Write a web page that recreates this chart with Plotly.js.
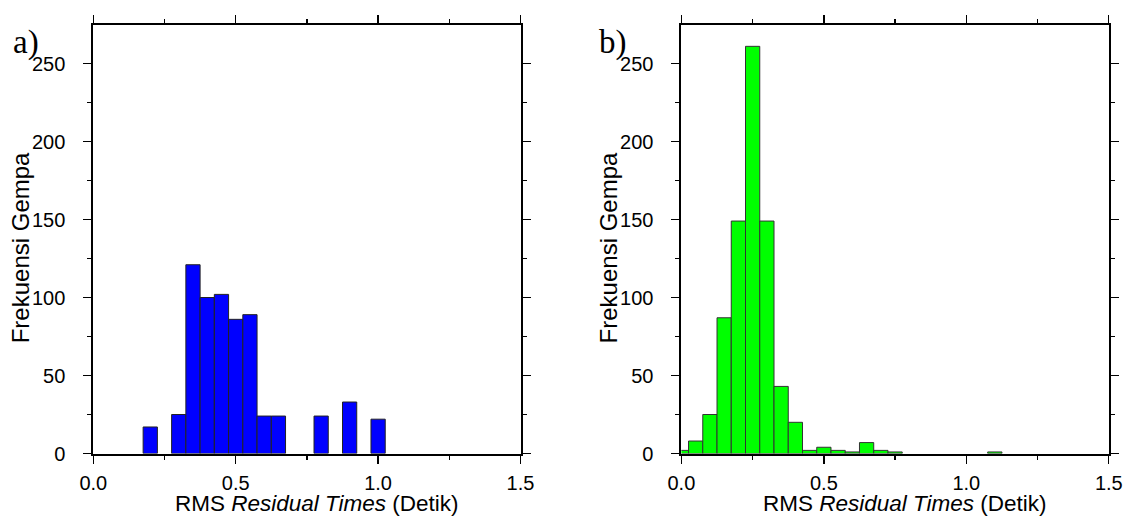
<!DOCTYPE html>
<html>
<head>
<meta charset="utf-8">
<script src="https://cdn.plot.ly/plotly-3.0.1.min.js"></script>
<style>html,body{margin:0;padding:0;background:#fff;}#chart{width:1127px;height:517px;}</style>
</head>
<body>
<div id="chart"></div>
<script>
// Panel a) histogram (bin centres, bin width 0.05 s)
const binsA = [0.2, 0.3, 0.35, 0.4, 0.45, 0.5, 0.55, 0.6, 0.65, 0.8, 0.9, 1.0];
const countsA = [17, 25, 121, 100, 102, 86, 89, 24, 24, 24, 33, 22];
// Panel b) histogram
const binsB = [0, 0.05, 0.1, 0.15, 0.2, 0.25, 0.3, 0.35, 0.4, 0.45, 0.5, 0.55, 0.6, 0.65, 0.7, 0.75, 1.1];
const countsB = [2, 8, 25, 87, 149, 261, 149, 43, 20, 2, 4, 2, 1, 7, 2, 1, 1];
const binWidth = 0.05;
const xTickVals = [0, 0.5, 1.0, 1.5];
const xTickText = ['0.0', '0.5', '1.0', '1.5'];
const yTickVals = [0, 50, 100, 150, 200, 250];
const panelLabels = ['a)', 'b)'];
const yTitle = 'Frekuensi Gempa';
const xTitle = 'RMS <i>Residual Times</i> (Detik)';

const W = 1127, H = 517;
const px = v => v / W, py = v => 1 - v / H;
const domA = [px(93.3), px(520.5)];
const domB = [px(681.4), px(1108.8)];
const domY = [py(453.5), py(24.5)];

const tickFont = {family: 'Liberation Sans, Arial, sans-serif', size: 20, color: '#000'};

function xax(dom, anchor) {
  return {
    domain: dom, anchor: anchor, range: [0, 1.5], fixedrange: true,
    showline: true, linecolor: '#000', linewidth: 2, mirror: 'allticks',
    showgrid: false, zeroline: false,
    ticks: 'outside', ticklen: 8, tickwidth: 1.3, tickcolor: '#000',
    tickvals: xTickVals, ticktext: xTickText, tickfont: tickFont,
    ticklabelstandoff: 2,
    minor: {tickvals: [0.25, 0.75, 1.25], ticks: 'outside', ticklen: 4, tickwidth: 1.3, tickcolor: '#000', showgrid: false},
    automargin: false
  };
}
function yax(anchor) {
  return {
    domain: domY, anchor: anchor, range: [0, 275], fixedrange: true,
    showline: true, linecolor: '#000', linewidth: 2, mirror: 'allticks',
    showgrid: false, zeroline: false,
    ticks: 'outside', ticklen: 8, tickwidth: 1.3, tickcolor: '#000',
    tickvals: yTickVals, tickfont: tickFont,
    ticklabelstandoff: 14,
    minor: {tickvals: [25, 75, 125, 175, 225], ticks: 'outside', ticklen: 4, tickwidth: 1.3, tickcolor: '#000', showgrid: false},
    automargin: false
  };
}

const traces = [
  {type: 'bar', x: binsA, y: countsA, width: binWidth, xaxis: 'x', yaxis: 'y',
   marker: {color: '#0000ff', line: {color: '#222', width: 1}}, hoverinfo: 'x+y'},
  {type: 'bar', x: binsB, y: countsB, width: binWidth, xaxis: 'x2', yaxis: 'y2',
   marker: {color: '#00ff00', line: {color: '#333', width: 1}}, hoverinfo: 'x+y'}
];

const titleFont = {family: 'Liberation Sans, Arial, sans-serif', size: 22.5, color: '#000'};
const yTitleFont = {family: 'Liberation Sans, Arial, sans-serif', size: 24, color: '#000'};
const labelFont = {family: 'Liberation Serif, Times New Roman, serif', size: 33, color: '#000'};

const annotations = [];
[[domA, 93.3, 11], [domB, 681.4, 597]].forEach(([dom, left, lx], i) => {
  annotations.push({text: panelLabels[i], xref: 'paper', yref: 'paper', x: px(lx), y: py(42), xanchor: 'left', yanchor: 'middle', showarrow: false, font: labelFont});
  annotations.push({text: yTitle, xref: 'paper', yref: 'paper', x: px(left - 73), y: py(248), xanchor: 'center', yanchor: 'middle', textangle: -90, showarrow: false, font: yTitleFont});
  annotations.push({text: xTitle, xref: 'paper', yref: 'paper', x: px(left + 224), y: py(503), xanchor: 'center', yanchor: 'middle', showarrow: false, font: titleFont});
});

const layout = {
  width: W, height: H,
  margin: {l: 0, r: 0, t: 0, b: 0},
  paper_bgcolor: '#fff', plot_bgcolor: '#fff',
  showlegend: false, bargap: 0,
  xaxis: xax(domA, 'y'), yaxis: yax('x'),
  xaxis2: xax(domB, 'y2'), yaxis2: yax('x2'),
  annotations: annotations
};

Plotly.newPlot('chart', traces, layout, {displayModeBar: false, staticPlot: true});
</script>
</body>
</html>
